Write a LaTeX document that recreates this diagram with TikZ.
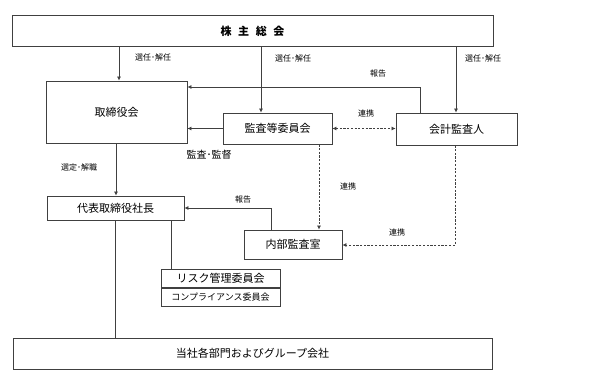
\documentclass[tikz,border=0pt]{standalone}
\usepackage{fontspec}
\setmainfont{Noto Sans CJK JP}
\usetikzlibrary{arrows.meta}
\definecolor{ln}{HTML}{404040}
\begin{document}
\begin{tikzpicture}[x=1pt,y=-1pt,
  box/.style={draw=ln, line width=0.8pt, inner sep=0pt, font=\fontsize{11}{11}\selectfont},
  lbl/.style={inner sep=0pt, font=\fontsize{8}{8}\selectfont},
  conn/.style={draw=ln, line width=0.7pt},
  arr/.style={conn, -{Latex[length=4pt,width=4pt]}},
  darr/.style={arr, dash pattern=on 2.2pt off 1.5pt},
  ddarr/.style={conn, dash pattern=on 2.2pt off 1.5pt, {Latex[length=4pt,width=4pt]}-{Latex[length=4pt,width=4pt]}}
]
\useasboundingbox (0,0) rectangle (600,377);
\node[box, minimum width=481pt, minimum height=31pt, font=\fontsize{11}{11}\selectfont\bfseries] (kabu) at (252.5,31) {株\hspace{0.6em}主\hspace{0.6em}総\hspace{0.6em}会};
\node[box, minimum width=141pt, minimum height=62pt] (tori) at (116.5,112) {取締役会};
\node[box, minimum width=109pt, minimum height=31pt] (kansa) at (277.5,128.5) {監査等委員会};
\node[box, minimum width=121pt, minimum height=32pt] (kaikei) at (456.5,129) {会計監査人};
\node[box, minimum width=137pt, minimum height=24pt] (daihyo) at (115.5,208) {代表取締役社長};
\node[box, minimum width=98pt, minimum height=29pt] (naibu) at (293,244.5) {内部監査室};
\node[box, minimum width=119pt, minimum height=18pt, anchor=north] (risk) at (220.5,269) {リスク管理委員会};
\node[box, minimum width=119pt, minimum height=18pt, anchor=north, font=\fontsize{9}{9}\selectfont] (comp) at (risk.south) {コンプライアンス委員会};
\node[box, minimum width=479pt, minimum height=31pt] (tosha) at (252.5,353.5) {当社各部門およびグループ会社};

% solid connectors
\draw[arr] (kabu.south -| 119,0) -- (tori.north -| 119,0);
\draw[arr] (kabu.south -| 261,0) -- (kansa.north -| 261,0);
\draw[arr] (kabu.south -| 456,0) -- (kaikei.north -| 456,0);
\draw[arr] (kaikei.north -| 420,0) -- (420,87) -- (tori.east |- 0,87);
\draw[arr] (kansa.west) -- (tori.east |- kansa.west);
\draw[arr] (tori.south -| 116,0) -- (daihyo.north -| 116,0);
\draw[arr] (naibu.north -| 271,0) -- (271,208) -- (daihyo.east |- 0,208);
\draw[conn] (daihyo.south -| 115,0) -- (tosha.north -| 115,0);
\draw[conn] (daihyo.south -| 171,0) -- (risk.north -| 171,0);
% dashed connectors
\draw[ddarr] (kansa.east) -- (kaikei.west |- kansa.east);
\draw[darr] (kansa.south -| 319,0) -- (naibu.north -| 319,0);
\draw[darr] (kaikei.south -| 455,0) -- (455,245) -- (naibu.east |- 0,245);

% labels
\node[lbl] (l1) at (153,57) {選任･解任};
\node[lbl] (l2) at (293,58) {選任･解任};
\node[lbl] (l3) at (483,58) {選任･解任};
\node[lbl] (l4) at (378,73) {報告};
\node[lbl] (l5) at (366,113) {連携};
\node[inner sep=0pt, font=\fontsize{10}{10}\selectfont] (l6) at (209,155) {監査･監督};
\node[lbl] (l7) at (79,167) {選定･解職};
\node[lbl] (l8) at (348,186) {連携};
\node[lbl] (l9) at (243,199) {報告};
\node[lbl] (l10) at (397,232) {連携};
\end{tikzpicture}
\end{document}
